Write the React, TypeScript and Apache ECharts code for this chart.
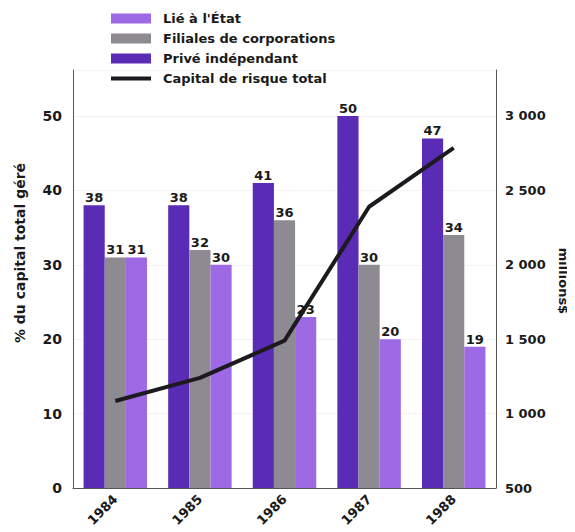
import React, { useEffect, useRef } from "react";
import * as echarts from "echarts";

const years = ["1984", "1985", "1986", "1987", "1988"];
const prive = [38, 38, 41, 50, 47];
const filiales = [31, 32, 36, 30, 34];
const lieEtat = [31, 30, 23, 20, 19];
const capitalTotal = [1085, 1240, 1490, 2390, 2785];

const FONT = "DejaVu Sans";

export default function App() {
  const ref = useRef<HTMLDivElement>(null);
  useEffect(() => {
    if (!ref.current) return;
    const chart = echarts.init(ref.current, null, { renderer: "svg" });
    const label = {
      show: true,
      position: "top",
      distance: 1,
      color: "#1a1a1a",
      fontFamily: FONT,
      fontWeight: "bold",
      fontSize: 13,
    };
    chart.setOption({
      animation: false,
      backgroundColor: "#fff",
      textStyle: { fontFamily: FONT },
      legend: {
        orient: "vertical",
        left: 106,
        top: 7,
        itemWidth: 40,
        itemHeight: 10,
        itemGap: 7,
        textStyle: {
          fontFamily: FONT,
          fontWeight: "bold",
          fontSize: 13,
          color: "#1a1a1a",
          padding: [0, 0, 0, 7],
        },
        data: [
          { name: "Lié à l'État", icon: "rect" },
          { name: "Filiales de corporations", icon: "rect" },
          { name: "Privé indépendant", icon: "rect" },
          { name: "Capital de risque total", icon: "path://M0,0 L40,0 L40,4 L0,4 Z" },
        ],
      },
      grid: { left: 73, right: 79, top: 70, bottom: 44 },
      xAxis: {
        type: "category",
        data: years,
        axisLine: { show: true, lineStyle: { color: "#555", width: 1 } },
        axisTick: { show: false },
        axisLabel: {
          rotate: 45,
          margin: 9,
          color: "#1a1a1a",
          fontFamily: FONT,
          fontWeight: "bold",
          fontSize: 13,
        },
      },
      yAxis: [
        {
          type: "value",
          min: 0,
          max: 56.2,
          interval: 10,
          axisLine: { show: true, lineStyle: { color: "#555", width: 1 } },
          axisTick: { show: false },
          splitLine: { show: true, lineStyle: { color: "#f3f3f3", width: 1 } },
          axisLabel: {
            margin: 11,
            color: "#1a1a1a",
            fontFamily: FONT,
            fontWeight: "bold",
            fontSize: 14,
            formatter: (v: number) => (Math.abs(v % 10) < 1e-9 ? String(v) : ""),
          },
        },
        {
          type: "value",
          min: 500,
          max: 3309,
          interval: 500,
          axisLine: { show: true, lineStyle: { color: "#555", width: 1 } },
          axisTick: { show: false },
          splitLine: { show: false },
          axisLabel: {
            margin: 9,
            color: "#1a1a1a",
            fontFamily: FONT,
            fontWeight: "bold",
            fontSize: 13,
            formatter: (v: number) => {
              if (Math.abs(v % 500) > 1e-9) return "";
              const s = String(Math.round(v));
              return s.length > 3 ? s.slice(0, s.length - 3) + " " + s.slice(-3) : s;
            },
          },
        },
      ],
      graphic: [
        {
          type: "text",
          x: 20,
          y: 253,
          rotation: Math.PI / 2,
          style: {
            text: "% du capital total géré",
            fontFamily: FONT,
            fontWeight: "bold",
            fontSize: 14,
            fill: "#1a1a1a",
            align: "center",
            verticalAlign: "middle",
          },
        },
        {
          type: "text",
          x: 563,
          y: 281,
          rotation: -Math.PI / 2,
          style: {
            text: "millions$",
            fontFamily: FONT,
            fontWeight: "bold",
            fontSize: 13,
            fill: "#1a1a1a",
            align: "center",
            verticalAlign: "middle",
          },
        },
      ],
      series: [
        {
          name: "Privé indépendant",
          type: "bar",
          data: prive,
          barGap: "0%",
          barCategoryGap: "25%",
          itemStyle: { color: "#5a2bb5" },
          label,
        },
        {
          name: "Filiales de corporations",
          type: "bar",
          data: filiales,
          itemStyle: { color: "#8e8a91" },
          label,
        },
        {
          name: "Lié à l'État",
          type: "bar",
          data: lieEtat,
          itemStyle: { color: "#9d69e4" },
          label,
        },
        {
          name: "Capital de risque total",
          type: "line",
          yAxisIndex: 1,
          data: capitalTotal,
          symbol: "none",
          lineStyle: { color: "#1c1a1e", width: 4 },
          itemStyle: { color: "#1c1a1e" },
          z: 5,
        },
      ],
    });
    return () => chart.dispose();
  }, []);
  return <div ref={ref} style={{ width: 575, height: 532, marginLeft: -8, marginTop: -8 }} />;
}
